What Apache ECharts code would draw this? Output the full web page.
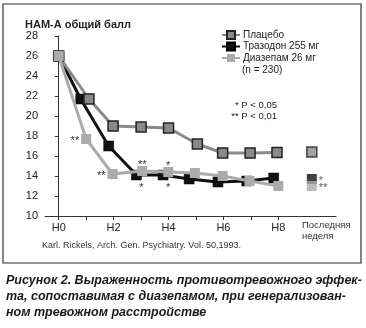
<!DOCTYPE html>
<html>
<head>
<meta charset="utf-8">
<script src="https://cdn.jsdelivr.net/npm/echarts@6/dist/echarts.min.js"></script>
<style>
html,body{margin:0;padding:0;background:#fff;}
#c{width:366px;height:328px;}
</style>
</head>
<body>
<div id="c"></div>
<script>
// ---- data ----
const seriesNames = ['Плацебо', 'Тразодон 255 мг', 'Диазепам 26 мг'];
const placeboX   = [0, 1.1, 1.98, 3.0, 4.0, 5.05, 5.97, 6.97, 7.95];
const placeboY   = [26, 21.7, 19.0, 18.9, 18.8, 17.2, 16.3, 16.3, 16.35];
const trazodoneX = [0, 0.8, 1.82, 2.83, 3.8, 4.75, 5.8, 6.85, 7.83];
const trazodoneY = [26, 21.7, 17.0, 14.1, 14.1, 13.7, 13.4, 13.5, 13.8];
const diazepamX  = [0, 1.0, 1.96, 3.04, 3.99, 4.96, 5.97, 6.95, 8.0];
const diazepamY  = [26, 17.7, 14.2, 14.5, 14.4, 14.3, 14.0, 13.5, 13.0];
const trazodoneSig = ['', '', '', '*', '*', '', '', '', ''];
const diazepamSig  = ['', '**', '**', '**', '*', '', '', '', ''];
const lastWeekX = 9.22;
const lastWeekY = [16.4, 13.7, 13.0];      // placebo, trazodone, diazepam
const lastWeekSig = ['', '*', '**'];
const weekTicks = [0, 1, 2, 3, 4, 5, 6, 7, 8];
const weekLabels = [0, 2, 4, 6, 8];
const yTitle = 'HAM-A общий балл';
const lastWeekLabel = 'Последняя\nнеделя';
const sampleNote = '(n = 230)';
const pNotes = '* P < 0,05\n** P < 0,01';
const sourceText = 'Karl. Rickels, Arch. Gen. Psychiatry. Vol. 50,1993.';
const captionLines = [
  'Рисунок 2. Выраженность противотревожного эффек-',
  'та, сопоставимая с диазепамом, при генерализован-',
  'ном тревожном расстройстве'
];

// ---- styling ----
const FONT = 'Liberation Sans';
const colors = ['#8a8a8a', '#111111', '#ababab'];

function pts(xs, ys) { return xs.map((x, i) => [x, ys[i]]); }

function sigData(xs, ys, sig, posFn) {
  return xs.map((x, i) => {
    const d = { value: [x, ys[i]] };
    if (sig[i]) {
      d.label = Object.assign({ show: true, formatter: sig[i] }, posFn(i));
    }
    return d;
  });
}

const starLabel = { color: '#333', fontSize: 11, fontFamily: FONT };

const chart = echarts.init(document.getElementById('c'), null, { renderer: 'canvas' });
chart.setOption({
  backgroundColor: '#fff',
  animation: false,
  textStyle: { fontFamily: FONT },
  grid: { left: 45, right: 30, top: 36, bottom: 112, containLabel: false },
  xAxis: {
    type: 'value', min: -0.5, max: 10.1,
    splitLine: { show: false },
    axisLine: { lineStyle: { color: '#333', width: 1 } },
    axisTick: { show: true, length: 4, customValues: weekTicks, lineStyle: { color: '#333' } },
    axisLabel: { customValues: weekLabels, formatter: v => 'H' + v, color: '#222', fontSize: 11, margin: 6 }
  },
  yAxis: {
    type: 'value', min: 10, max: 28, interval: 2,
    splitLine: { show: false },
    axisLine: { show: true, lineStyle: { color: '#333', width: 1 } },
    axisTick: { show: true, length: 4, lineStyle: { color: '#333' } },
    axisLabel: { color: '#222', fontSize: 11, margin: 7 }
  },
  legend: {
    orient: 'vertical', left: 221, top: 30, padding: 0,
    itemWidth: 18, itemHeight: 10, itemGap: 1.5,
    data: seriesNames,
    textStyle: { fontSize: 10, color: '#222', fontFamily: FONT, padding: [0, 0, 0, -2] }
  },
  series: [
    {
      name: seriesNames[1], type: 'line', z: 2,
      data: sigData(trazodoneX, trazodoneY, trazodoneSig, () => ({ position: 'bottom', distance: 0, offset: [5, 2], ...starLabel })),
      symbol: 'rect', symbolSize: 10,
      lineStyle: { color: colors[1], width: 3 },
      itemStyle: { color: colors[1], borderColor: '#000', borderWidth: 0.5 }
    },
    {
      name: seriesNames[0], type: 'line', z: 3,
      data: pts(placeboX, placeboY),
      symbol: 'rect', symbolSize: 10,
      lineStyle: { color: colors[0], width: 3 },
      itemStyle: { color: colors[0], borderColor: '#222', borderWidth: 1.5 }
    },
    {
      name: seriesNames[2], type: 'line', z: 4,
      data: sigData(diazepamX, diazepamY, diazepamSig, i => (i <= 2
        ? { position: 'left', distance: 2, offset: [0, 2], ...starLabel }
        : { position: 'top', distance: 0, offset: [0, 4], ...starLabel })),
      symbol: 'rect', symbolSize: 10,
      lineStyle: { color: colors[2], width: 3 },
      itemStyle: { color: colors[2] }
    },
    {
      name: 'last', type: 'scatter', z: 5, symbol: 'rect', symbolSize: 10, clip: false,
      data: lastWeekY.map((y, i) => ({
        value: [lastWeekX, y],
        itemStyle: i === 0 ? { color: colors[0], borderColor: '#222', borderWidth: 1.5 } : { color: colors[i] },
        label: lastWeekSig[i] ? { show: true, formatter: lastWeekSig[i], position: 'right', distance: 2, offset: [0, 2], ...starLabel } : { show: false }
      }))
    }
  ],
  graphic: [
    { type: 'rect', shape: { x: 3, y: 4, width: 358, height: 259 }, style: { fill: 'none', stroke: '#333', lineWidth: 1.2 }, z: -1 },
    { type: 'text', left: 25, top: 19, style: { text: yTitle, font: 'bold 11px "' + FONT + '"', fill: '#222' } },
    { type: 'text', left: 242, top: 65, style: { text: sampleNote, font: '10px "' + FONT + '"', fill: '#222' } },
    { type: 'text', x: 277, y: 100, style: { text: pNotes, font: '9.5px "' + FONT + '"', fill: '#222', align: 'right', lineHeight: 11 } },
    { type: 'text', x: 302, y: 220, style: { text: lastWeekLabel, font: '9.5px "' + FONT + '"', fill: '#333', align: 'left', lineHeight: 11 } },
    { type: 'text', x: 42, y: 241, style: { text: sourceText, font: '9px "' + FONT + '"', fill: '#333' } },
  ].concat(captionLines.map((t, i) => ({
    type: 'text', x: 6, y: 274 + i * 16,
    style: { text: t, font: 'italic bold 12.5px "' + FONT + '"', fill: '#1a1a1a' }
  })))
});
</script>
</body>
</html>
